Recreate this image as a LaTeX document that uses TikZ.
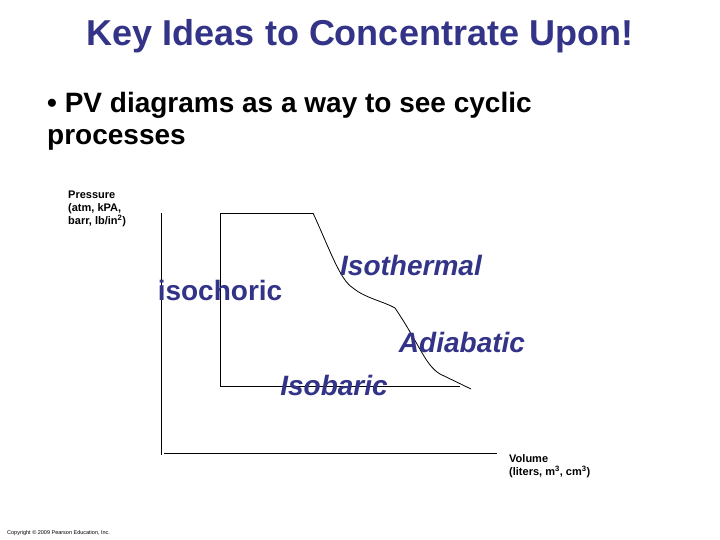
\documentclass[tikz,border=0pt]{standalone}
\usepackage{fontspec}
\setmainfont{Liberation Sans}
\definecolor{navy}{HTML}{333388}
\begin{document}
\begin{tikzpicture}[x=1pt,y=-1pt,
  lbl/.style={font=\bfseries\fontsize{28}{30}\selectfont,text=navy,inner sep=0},
  ilbl/.style={lbl,font=\bfseries\itshape\fontsize{28}{30}\selectfont},
  small/.style={font=\bfseries\fontsize{11}{13}\selectfont,align=left,inner sep=0,anchor=north west},
  ln/.style={line width=0.8pt}]
\useasboundingbox (0,0) rectangle (720,540);
\node[font=\bfseries\fontsize{36}{40}\selectfont,text=navy] (title) at (360,36) {Key Ideas to Concentrate Upon!};
\node[font=\bfseries\fontsize{28}{32}\selectfont,align=left,anchor=north west,inner sep=0] (bullet) at (47,92) {• PV diagrams as a way to see cyclic\\processes};
\node[small] (p) at (68,191) {Pressure\\(atm, kPA,\\barr, lb/in\textsuperscript{2})};
\node[small] (v) at (509,454) {Volume\\(liters, m\textsuperscript{3}, cm\textsuperscript{3})};
\node[font=\fontsize{5.5}{6}\selectfont,anchor=west,inner sep=0] (c) at (7,533) {Copyright © 2009 Pearson Education, Inc.};
\coordinate (o1) at (161,213); \coordinate (o2) at (161,455);
\coordinate (x1) at (164,453); \coordinate (x2) at (497,453);
\draw[ln] (o1) -- (o2); \draw[ln] (x1) -- (x2);
\coordinate (a) at (220,213); \coordinate (b) at (313,213);
\coordinate (d) at (220,386); \coordinate (e) at (460,386);
\coordinate (m) at (395,308); \coordinate (f) at (471,389);
\draw[ln] (d) -- (a) -- (b);
\draw[ln] (d) -- (e);
\draw[ln] (b) .. controls (330,250) and (340,280) .. (353,288) .. controls (365,298) and (385,302) .. (m)
  .. controls (420,345) and (425,365) .. (440,374) -- (f);
\node[lbl] (iso) at (220,290) {isochoric};
\node[ilbl] (it) at (411,265) {Isothermal};
\node[ilbl] (ad) at (462,342) {Adiabatic};
\node[ilbl] (ib) at (334,385) {Isobaric};
\end{tikzpicture}
\end{document}
